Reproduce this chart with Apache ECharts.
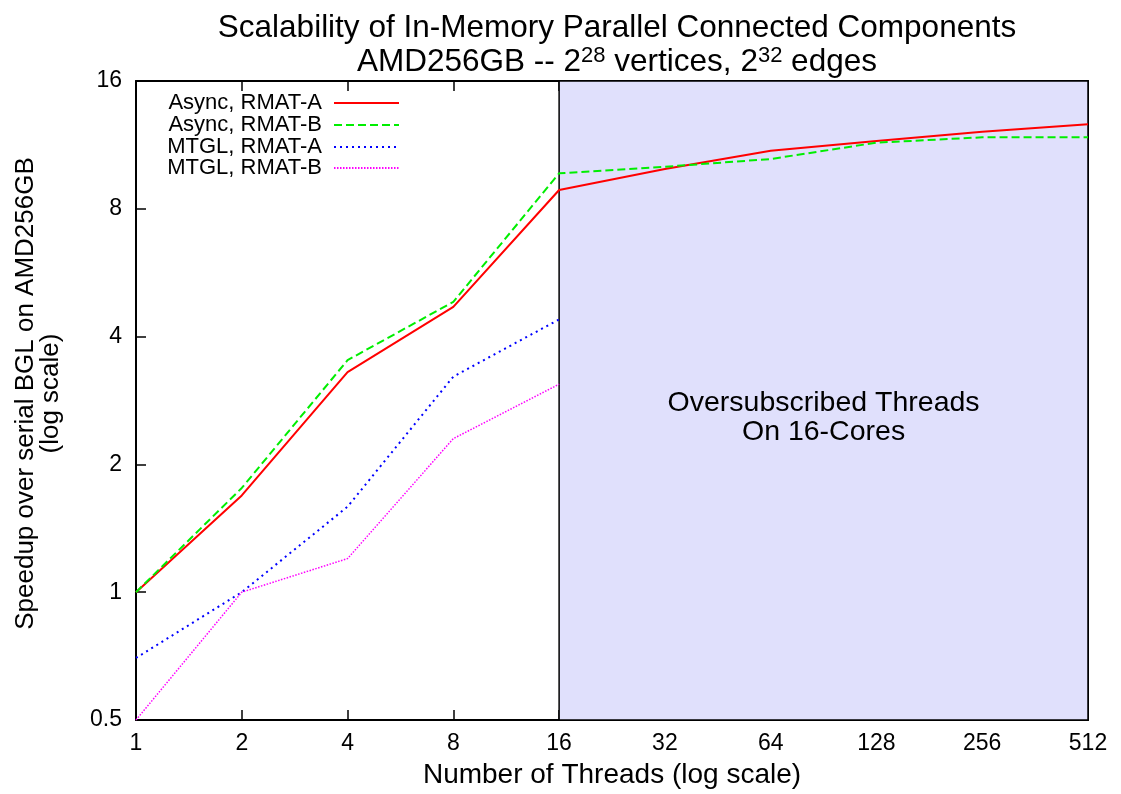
<!DOCTYPE html>
<html>
<head>
<meta charset="utf-8">
<script src="https://cdn.jsdelivr.net/npm/echarts@6/dist/echarts.min.js"></script>
<style>html,body{margin:0;padding:0;background:#fff;}#c{width:1121px;height:794px;}</style>
</head>
<body>
<div id="c"></div>
<script>
const threads = [1, 2, 4, 8, 16, 32, 64, 128, 256, 512];
const asyncA = [1.0, 1.69, 3.30, 4.70, 8.86, 9.93, 10.96, 11.56, 12.15, 12.65];
const asyncB = [1.0, 1.76, 3.52, 4.83, 9.70, 10.05, 10.48, 11.45, 11.79, 11.79];
const mtglA = [0.70, 1.0, 1.59, 3.22, 4.39];
const mtglB = [0.5, 1.0, 1.20, 2.30, 3.09];
const seriesNames = ['Async, RMAT-A', 'Async, RMAT-B', 'MTGL, RMAT-A', 'MTGL, RMAT-B'];
const oversubStart = 16, oversubEnd = 512;
const oversubText = 'Oversubscribed Threads\nOn 16-Cores';

const FONT = 'Liberation Sans, Arial, sans-serif';
const pair = (xs, ys) => ys.map((v, i) => [xs[i], v]);

const chart = echarts.init(document.getElementById('c'), null, {renderer: 'canvas'});

const colors = ['#ff0000', '#00ee00', '#0000ff', '#ff00ff'];
const lineTypes = ['solid', [8, 4], [2, 4], [1.5, 1.5]];
const widths = [2, 2, 2, 1.5];
const datas = [pair(threads, asyncA), pair(threads, asyncB), pair(threads, mtglA), pair(threads, mtglB)];

const legendTops = [92, 114, 136, 157];
const legends = seriesNames.map((n, i) => ({
  data: [n], orient: 'vertical', right: 721, top: legendTops[i], align: 'right',
  itemWidth: 65, itemHeight: 14, itemGap: 0, padding: 0,
  itemStyle: {color: 'rgba(0,0,0,0)', borderWidth: 0},
  textStyle: {fontFamily: FONT, fontSize: 22, color: '#000', padding: [0, 7, 0, 0]},
  selectedMode: false
}));

const series = seriesNames.map((n, i) => ({
  name: n, type: 'line', data: datas[i], symbol: 'none', z: 3,
  lineStyle: {color: colors[i], width: widths[i], type: lineTypes[i]},
  itemStyle: {color: colors[i]},
  emphasis: {disabled: true}
}));
series[0].markArea = {
  silent: true, z: 2,
  itemStyle: {color: '#e0e0fc', opacity: 1, borderColor: '#000', borderWidth: 1.5},
  label: {show: true, position: 'inside', formatter: oversubText,
    fontFamily: FONT, fontSize: 28.5, color: '#000', lineHeight: 29, offset: [0, 17]},
  data: [[{xAxis: oversubStart}, {xAxis: oversubEnd}]]
};

const axisCommon = {
  type: 'log', logBase: 2, z: 1,
  axisLine: {show: true, lineStyle: {color: '#000', width: 2}},
  axisTick: {show: true, inside: true, length: 10, lineStyle: {color: '#000', width: 1.5}},
  splitLine: {show: false},
  minorTick: {show: false}
};

chart.setOption({
  animation: false,
  backgroundColor: '#fff',
  title: {
    text: 'Scalability of In-Memory Parallel Connected Components\nAMD256GB -- 2{sup|28} vertices, 2{sup|32} edges',
    left: 612, top: 6, textAlign: 'center',
    textStyle: {fontFamily: FONT, fontSize: 31.5, fontWeight: 'normal', color: '#000', lineHeight: 34,
      rich: {sup: {fontFamily: FONT, fontSize: 22, verticalAlign: 'top', padding: [0, 0, 14, 0], color: '#000'}}}
  },
  legend: legends,
  grid: {left: 136, right: 33, top: 81, bottom: 74, containLabel: false},
  xAxis: [
    Object.assign({}, axisCommon, {
      min: 1, max: 512, position: 'bottom',
      name: 'Number of Threads (log scale)', nameLocation: 'middle', nameGap: 41,
      nameTextStyle: {fontFamily: FONT, fontSize: 28, color: '#000'},
      axisLabel: {fontFamily: FONT, fontSize: 23, color: '#000', margin: 12}
    }),
    Object.assign({}, axisCommon, {min: 1, max: 512, position: 'top', axisLabel: {show: false}})
  ],
  yAxis: [
    Object.assign({}, axisCommon, {
      min: 0.5, max: 16, position: 'left',
      name: 'Speedup over serial BGL on AMD256GB\n(log scale)', nameLocation: 'middle', nameGap: 73,
      nameRotate: 90,
      nameTextStyle: {fontFamily: FONT, fontSize: 26, color: '#000', lineHeight: 25, padding: [0, 0, 0, 14]},
      axisLabel: {fontFamily: FONT, fontSize: 23, color: '#000', margin: 14}
    }),
    Object.assign({}, axisCommon, {min: 0.5, max: 16, position: 'right', axisLabel: {show: false}})
  ],
  series: series
});
</script>
</body>
</html>
